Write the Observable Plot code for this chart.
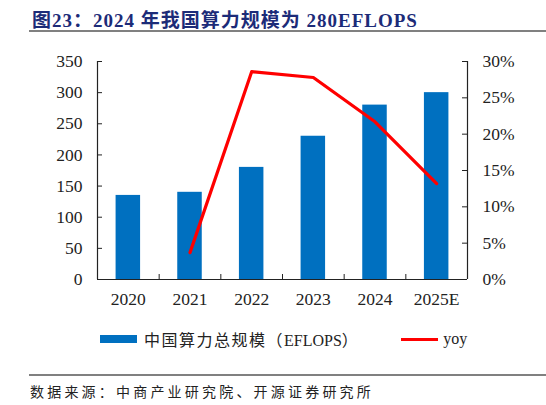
<!DOCTYPE html>
<html>
<head>
<meta charset="utf-8">
<script src="https://cdn.jsdelivr.net/npm/d3@7"></script>
<script src="https://cdn.jsdelivr.net/npm/@observablehq/plot@0.6"></script>
<style>
  body { margin: 0; background: #fff; font-family: "Liberation Serif", "Noto Sans CJK SC", serif; }
  #wrap { position: relative; width: 546px; height: 405px; overflow: hidden; }
  #title { position: absolute; left: 32px; top: 5px; font-size: 19px; letter-spacing: 1px; font-weight: bold; color: #1c2b78; white-space: nowrap; }
  .hr { position: absolute; left: 29px; width: 517px; height: 2px; background: #808080; }
  #chart { position: absolute; left: 0; top: 32px; }
  #legend { position: absolute; left: 100px; top: 327px; display: flex; align-items: center; font-size: 16px; color: #222; white-space: nowrap; }
  .sw-bar { width: 37px; height: 8px; background: #0070C0; margin-right: 7px; }
  .sw-line { width: 37px; height: 3px; background: #FF0000; margin-left: 42px; margin-right: 5px; }
  #source { position: absolute; left: 30px; top: 381px; font-size: 14px; color: #222; letter-spacing: 3.2px; white-space: nowrap; font-family: "Noto Sans CJK SC", sans-serif; }
</style>
</head>
<body>
<div id="wrap">
  <div id="title">图23：2024 年我国算力规模为 280EFLOPS</div>
  <div class="hr" style="top:30px"></div>
  <div id="chart"></div>
  <div id="legend">
    <div class="sw-bar"></div><span style="letter-spacing:1.5px">中国算力总规模（<span style="letter-spacing:0">EFLOPS</span>）</span>
    <div class="sw-line"></div><span>yoy</span>
  </div>
  <div class="hr" style="top:374px"></div>
  <div id="source">数据来源：中商产业研究院、开源证券研究所</div>
</div>
<script>
const years = ["2020", "2021", "2022", "2023", "2024", "2025E"];
const scale = [135, 140, 180, 230, 280, 300];          // EFLOPS
const yoy = [null, 3.7, 28.6, 27.8, 21.7, 13.2];        // %
const leftTicks = [0, 50, 100, 150, 200, 250, 300, 350];
const rightTicks = [0, 5, 10, 15, 20, 25, 30];

const leftMax = 350, rightMax = 30;
const k = leftMax / rightMax;
const n = years.length;

const data = years.map((y, i) => ({i, year: y, value: scale[i], yoy: yoy[i]}));

const W = 546, mL = 97, mR = 79;
const step = (W - mL - mR) / n;
const inset = (step - 24.5) / 2;
const tickX = 5 / step;          // tick length in category units
const tickY = 5 * leftMax / 218; // tick length in value units

const chart = Plot.plot({
  width: W,
  height: 283,
  marginLeft: mL,
  marginRight: mR,
  marginTop: 29,
  marginBottom: 36,
  style: { fontFamily: "Liberation Serif, serif", fontSize: "17.5px", color: "#222", background: "transparent" },
  x: { domain: [0, n], label: null },
  y: { domain: [0, leftMax], label: null },
  marks: [
    Plot.rectY(data, { x1: "i", x2: d => d.i + 1, y: "value", fill: "#0070C0", insetLeft: inset, insetRight: inset }),
    // axis lines
    Plot.ruleY([0], { stroke: "#222", strokeWidth: 1.2 }),
    Plot.ruleX([0, n], { stroke: "#222", strokeWidth: 1.2 }),
    // inward ticks
    Plot.ruleX(d3.range(1, n), { y1: 0, y2: tickY, stroke: "#222" }),
    Plot.ruleY(leftTicks, { x1: 0, x2: tickX, stroke: "#222" }),
    Plot.ruleY(rightTicks.map(d => d * k), { x1: n - tickX, x2: n, stroke: "#222" }),
    Plot.axisX(data.map(d => d.i + 0.5), { tickSize: 0, tickPadding: 13, fontSize: 17.5, tickFormat: d => years[Math.floor(d)], label: null }),
    Plot.axisY(leftTicks, { anchor: "left", tickSize: 0, tickPadding: 15, fontSize: 17.5, label: null }),
    Plot.axisY(rightTicks.map(d => d * k), {
      anchor: "right", tickSize: 0, tickPadding: 15, fontSize: 17.5, label: null,
      tickFormat: d => Math.round(d / k) + "%"
    }),
    Plot.line(data.filter(d => d.yoy != null), { x: d => d.i + 0.5, y: d => d.yoy * k, stroke: "#FF0000", strokeWidth: 3.2 })
  ]
});

document.getElementById("chart").append(chart);
</script>
</body>
</html>
